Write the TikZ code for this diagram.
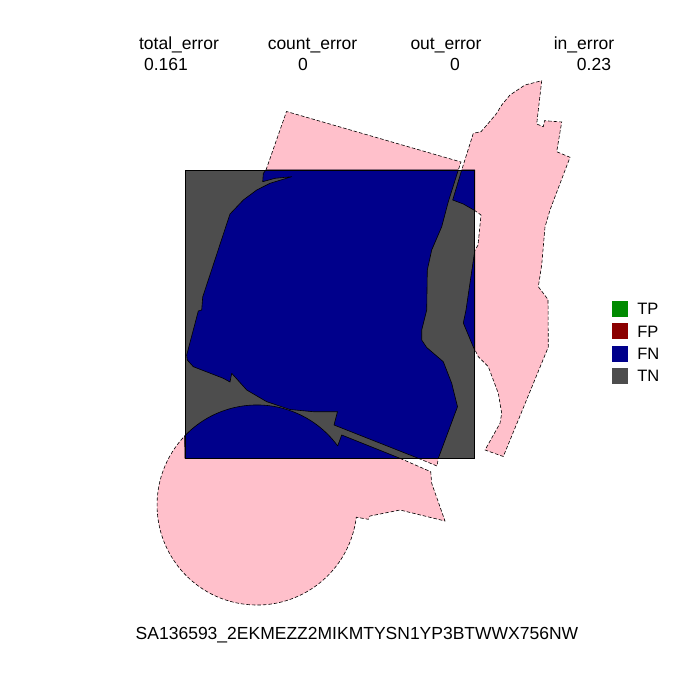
\documentclass[tikz,border=0pt]{standalone}
\usepackage{fontspec}
\setmainfont{Liberation Sans}
\usepackage{xcolor}
\definecolor{truthpink}{HTML}{FFC0CB}
\definecolor{tngray}{HTML}{4D4D4D}
\definecolor{fnblue}{HTML}{00008B}
\definecolor{fpred}{HTML}{8B0000}
\definecolor{tpgreen}{HTML}{008B00}
\usetikzlibrary{positioning}
\tikzset{
  truthshape/.style={fill=truthpink,draw=black,line width=0.6pt,dash pattern=on 3.5pt off 2pt},
  missshape/.style={fill=fnblue,draw=black,line width=0.6pt,line join=round},
  tnframe/.style={draw=black,line width=0.9pt},
  scorelabel/.style={anchor=base,inner sep=0pt,font=\fontsize{17.5}{19}\selectfont},
  legendbox/.style={minimum size=16pt,inner sep=0pt},
  legendtext/.style={inner sep=0pt,font=\fontsize{16.5}{18}\selectfont}
}

\begin{document}
\begin{tikzpicture}[x=1pt,y=-1pt,node distance=6pt and 9pt]
\useasboundingbox (0,0) rectangle (700,700);
\fill[white] (0,0) rectangle (700,700);
% scores
\node[scorelabel] (totlab) at (179,50) {total\_error};
\node[scorelabel] (totval) at (166,71) {0.161};
\node[scorelabel] (cntlab) at (312.5,50) {count\_error};
\node[scorelabel] (cntval) at (303,71) {0};
\node[scorelabel] (outlab) at (446,50) {out\_error};
\node[scorelabel] (outval) at (455,71) {0};
\node[scorelabel] (inlab) at (584,50) {in\_error};
\node[scorelabel] (inval) at (594,71) {0.23};
% ground truth
\draw[truthshape] (541.7,80.7) -- (536.7,124) -- (543.3,126.7) -- (544.5,120.7) -- (561.7,122) -- (556.7,151.7)
  -- (570,157.3) -- (555,196.7) -- (550,210) -- (545,227) -- (541.7,265) -- (538.3,286.7) -- (548,299.5)
  -- (548.3,347) -- (503.3,456.5) -- (485,450) -- (500,423.3) -- (501.7,413.3) -- (498.3,393.3) -- (493.3,380)
  -- (488.3,366.7) -- (478.3,356.7) -- (475.5,351) -- (473.3,347) -- (463.3,323) -- (466,310) -- (474.7,251)
  -- (478,245) -- (481,215) -- (474.7,210.5) -- (463.3,204) -- (452.7,200) -- (461.7,170) -- (473.3,133.3)
  -- (481,131.7) -- (488.3,123.3) -- (496.7,113.3) -- (501.7,105) -- (510,95) -- (525,85) -- cycle;
\draw[truthshape] (266,170) -- (286.5,111.5) -- (461,162) -- (458.3,170) -- (440,230) -- (300,230) -- cycle;
\draw[truthshape] (418.3,458.3) -- (437,466) -- (438.3,458.3) -- (430,450) -- cycle;
\draw[truthshape] (400,458.3) -- (430.7,471.7) -- (431.7,483.3) -- (445,521) -- (400,510) -- (370,516)
  -- (368.3,519.3) -- (356.3,517.2) arc[start angle=7,end angle=223.6,radius=100] -- (200,445) -- (330,445) -- cycle;
% frame
\coordinate (frametl) at (185,170);
\coordinate (framebr) at (474.7,458.3);
\fill[tngray] (frametl) rectangle (framebr);
% missed parts
\draw[missshape] (461.7,170) -- (474.7,170) -- (474.7,210.5) -- (463.3,204) -- (452.7,200) -- cycle;
\draw[missshape] (474.7,251) -- (466,310) -- (463.3,323) -- (473.3,347) -- (474.7,350) -- cycle;
\draw[missshape] (184.6,436) arc[start angle=-136.4,end angle=-36.2,radius=100] -- (341.7,435) -- (400,458.3)
  -- (185,458.3) -- cycle;
\draw[missshape] (266,170) -- (458.3,170) -- (448.3,201.7) -- (441.7,226.7) -- (431.7,250) -- (427.3,270)
  -- (426.7,310) -- (421.7,330) -- (421.7,340) -- (426.7,347.5) -- (443.3,361.7) -- (451.7,383.3)
  -- (457.5,406.7) -- (438.3,458.3) -- (418.3,458.3) -- (334,425) -- (337.5,411.7) -- (313.3,411.7)
  -- (290,409.5) -- (266.7,401.7) -- (246.7,390) -- (231.7,373.3) -- (230,382) -- (223.3,378.3)
  -- (193.3,366.7) -- (187.3,360) -- (186.7,355) -- (198.3,311) -- (201.7,310) -- (202.7,297)
  -- (230,214) -- (243.3,200) -- (256.7,190) -- (270,183.3) -- (291.7,176.7) -- (275,178.3)
  -- (262.7,181.7) -- (263.3,173.3) -- cycle;
\draw[tnframe] (frametl) rectangle (framebr);
% legend
\node[legendbox,fill=tpgreen] (tpbox) at (620,309) {};
\node[legendbox,fill=fpred,below=of tpbox] (fpbox) {};
\node[legendbox,fill=fnblue,below=of fpbox] (fnbox) {};
\node[legendbox,fill=tngray,below=of fnbox] (tnbox) {};
\node[legendtext,right=of tpbox] (tplab) {TP};
\node[legendtext,right=of fpbox] (fplab) {FP};
\node[legendtext,right=of fnbox] (fnlab) {FN};
\node[legendtext,right=of tnbox] (tnlab) {TN};
% sample id
\node[scorelabel] (sampleid) at (357,639) {SA136593\_2EKMEZZ2MIKMTYSN1YP3BTWWX756NW};
\end{tikzpicture}
\end{document}
